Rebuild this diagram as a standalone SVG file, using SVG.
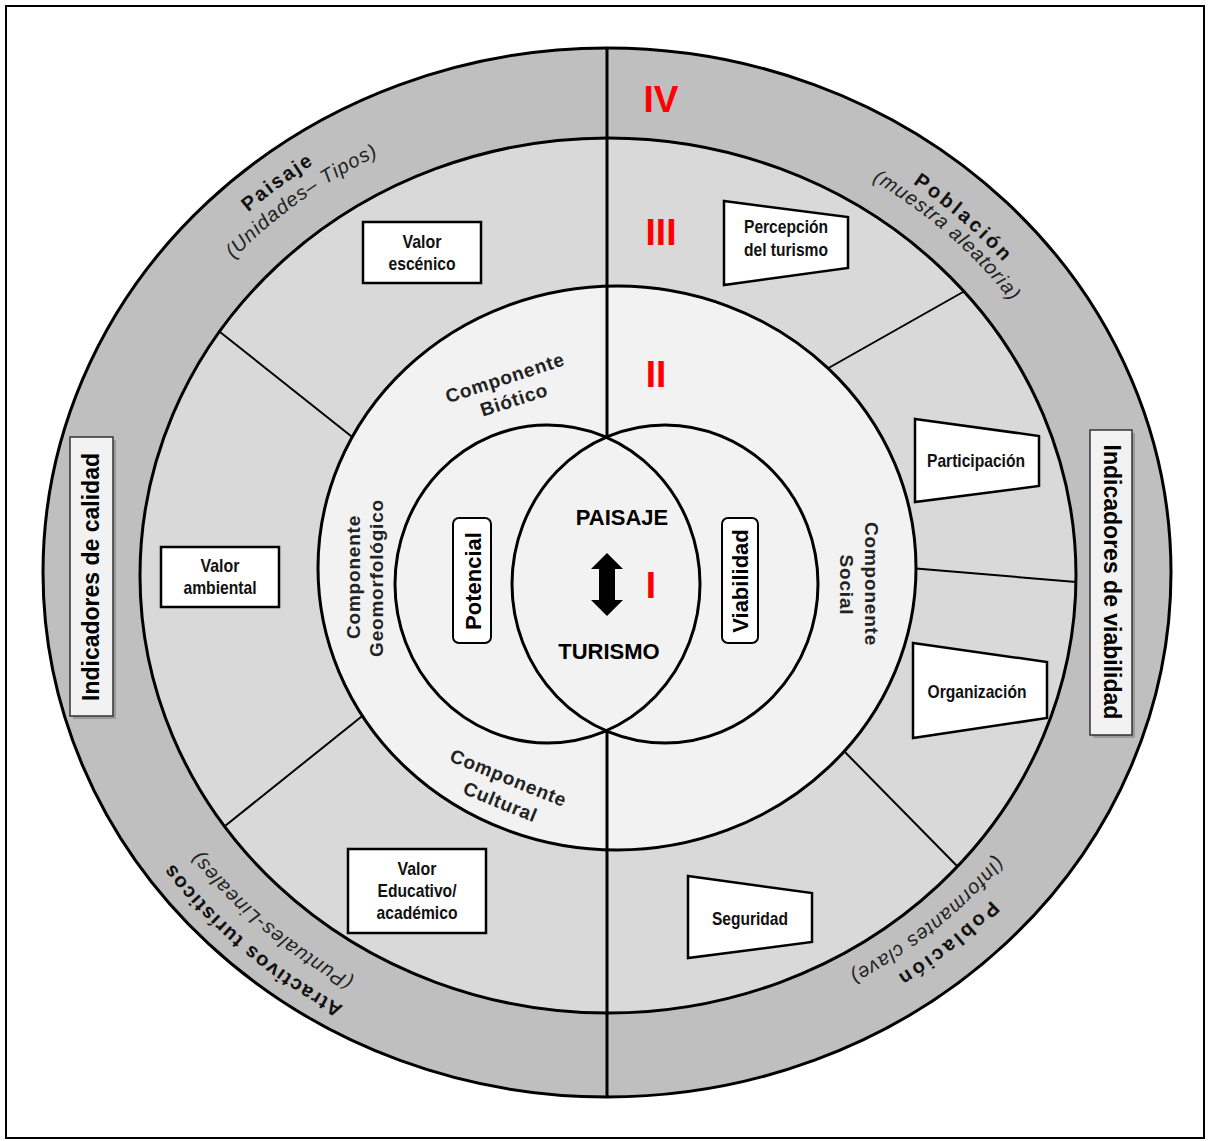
<svg xmlns="http://www.w3.org/2000/svg" width="1208" height="1141" viewBox="0 0 1208 1141">
<style>
.ring{stroke:#000;stroke-width:3}
.sep{stroke:#000;stroke-width:2;fill:none}
.box{fill:#fff;stroke:#000;stroke-width:2.5}
.bt{font-family:"Liberation Sans",Arial,sans-serif;font-weight:bold;font-size:19px;fill:#111;text-anchor:middle}
.comp{font-family:"Liberation Sans",Arial,sans-serif;font-weight:bold;font-size:19px;fill:#222;letter-spacing:0.8px;text-anchor:middle}
.main{font-family:"Liberation Sans",Arial,sans-serif;font-weight:bold;font-size:20px;fill:#111}
.par{font-family:"Liberation Sans",Arial,sans-serif;font-style:italic;font-size:20px;fill:#222;letter-spacing:1px}
.num{font-family:"Liberation Sans",Arial,sans-serif;font-weight:bold;font-size:37px;fill:#ff0000;text-anchor:middle}
.core{font-family:"Liberation Sans",Arial,sans-serif;font-weight:bold;font-size:22px;fill:#000;text-anchor:middle}
.ind{font-family:"Liberation Sans",Arial,sans-serif;font-weight:bold;font-size:23px;fill:#000;text-anchor:middle}
.pill{fill:#fff;stroke:#000;stroke-width:2}
.pt{font-family:"Liberation Sans",Arial,sans-serif;font-weight:bold;font-size:22px;fill:#000;text-anchor:middle}
</style>
<defs>
<path id="pPaisaje" d="M91.3,472.3 A526.8,490 0 0 1 623.5,82.7"/>
<path id="pUnidades" d="M112.7,476.4 A505,470 0 0 1 622.9,102.7"/>
<path id="pPobTop" d="M643.1,92.7 A517,481 0 0 1 1121.2,522.2"/>
<path id="pMuestra" d="M641.9,108.6 A500,465 0 0 1 1104.3,523.9"/>
<path id="pAtract" d="M581.8,1069 A534,497 0 0 1 77.3,635.7"/>
<path id="pPuntual" d="M583.1,1044 A507,472 0 0 1 104.1,632.5"/>
<path id="pPobBot" d="M1121.1,645.3 A520,484 0 0 1 619.3,1056.4"/>
<path id="pInform" d="M1097.3,641.9 A496,461.6 0 0 1 618.7,1034"/>
</defs>
<rect x="6" y="6" width="1198" height="1132" fill="#fff" stroke="#000" stroke-width="2"/>

<g id="ring-IV">
<ellipse class="ring" cx="607" cy="572.5" rx="564" ry="524.5" fill="#bfbfbf"/>
</g>
<g id="ring-III">
<ellipse class="ring" cx="608" cy="575.5" rx="468" ry="437.5" fill="#d9d9d9"/>
</g>
<g id="connectors">
<line class="sep" x1="220" y1="332" x2="356" y2="440"/>
<line class="sep" x1="225" y1="826" x2="366" y2="713"/>
<line class="sep" x1="963" y1="292" x2="825" y2="370"/>
<line class="sep" x1="1076" y1="582" x2="910" y2="568"/>
<line class="sep" x1="958" y1="867" x2="841" y2="748"/>
</g>
<g id="ring-II">
<ellipse class="ring" cx="617" cy="568" rx="299" ry="282" fill="#f2f2f2"/>
</g>
<g id="core-circles">
<ellipse class="ring" cx="547.5" cy="584" rx="152.5" ry="159" fill="none"/>
<ellipse class="ring" cx="665" cy="584" rx="153" ry="159" fill="none"/>
</g>
<g id="axis">
<line x1="607" y1="48" x2="607" y2="438" stroke="#000" stroke-width="3"/>
<line x1="607" y1="730" x2="607" y2="1097" stroke="#000" stroke-width="3"/>
</g>

<g id="ring-labels">
<text class="main" dy="-1" letter-spacing="2"><textPath href="#pPaisaje" startOffset="49%" text-anchor="middle">Paisaje</textPath></text>
<text class="par" dy="2"><textPath href="#pUnidades" startOffset="50%" text-anchor="middle">(Unidades– Tipos)</textPath></text>
<text class="main" dy="-1" letter-spacing="3"><textPath href="#pPobTop" startOffset="50%" text-anchor="middle">Población</textPath></text>
<text class="par" dy="2"><textPath href="#pMuestra" startOffset="50%" text-anchor="middle">(muestra aleatoria)</textPath></text>
<text class="main" dy="-1" letter-spacing="1.5"><textPath href="#pAtract" startOffset="50%" text-anchor="middle">Atractivos turísticos</textPath></text>
<text class="par" dy="2"><textPath href="#pPuntual" startOffset="50%" text-anchor="middle">(Puntuales-Lineales)</textPath></text>
<text class="main" dy="-1" letter-spacing="3"><textPath href="#pPobBot" startOffset="50%" text-anchor="middle">Población</textPath></text>
<text class="par" dy="2"><textPath href="#pInform" startOffset="50%" text-anchor="middle">(Informantes clave)</textPath></text>
</g>

<g id="numerals">
<text class="num" x="661" y="112">IV</text>
<text class="num" x="661" y="245">III</text>
<text class="num" x="656" y="387">II</text>
<text class="num" x="651" y="598">I</text>
</g>

<g id="ind-calidad">
<rect x="73" y="440" width="43" height="279" fill="#8a8a8a" opacity="0.7"/>
<rect x="70" y="437" width="43" height="279" fill="#f2f2f2" stroke="#333" stroke-width="1.5"/>
<text class="ind" transform="translate(99,577) rotate(-90)">Indicadores de calidad</text>
</g>
<g id="ind-viabilidad">
<rect x="1093" y="433" width="42" height="305" fill="#8a8a8a" opacity="0.7"/>
<rect x="1090" y="430" width="42" height="305" fill="#f2f2f2" stroke="#333" stroke-width="1.5"/>
<text class="ind" transform="translate(1104,582) rotate(90)">Indicadores de viabilidad</text>
</g>

<g id="valor-escenico">
<rect class="box" x="363" y="222" width="118" height="61"/>
<text class="bt" x="422" y="248" textLength="39" lengthAdjust="spacingAndGlyphs">Valor</text>
<text class="bt" x="422" y="270" textLength="67" lengthAdjust="spacingAndGlyphs">escénico</text>
</g>
<g id="valor-ambiental">
<rect class="box" x="161" y="547" width="118" height="60"/>
<text class="bt" x="220" y="572" textLength="39" lengthAdjust="spacingAndGlyphs">Valor</text>
<text class="bt" x="220" y="594" textLength="73" lengthAdjust="spacingAndGlyphs">ambiental</text>
</g>
<g id="valor-educativo">
<rect class="box" x="348" y="849" width="138" height="84"/>
<text class="bt" x="417" y="875" textLength="39" lengthAdjust="spacingAndGlyphs">Valor</text>
<text class="bt" x="417" y="897" textLength="79" lengthAdjust="spacingAndGlyphs">Educativo/</text>
<text class="bt" x="417" y="919" textLength="81" lengthAdjust="spacingAndGlyphs">académico</text>
</g>
<g id="percepcion">
<polygon class="box" points="724,201 848,217 848,268 724,285"/>
<text class="bt" x="786" y="233" textLength="84" lengthAdjust="spacingAndGlyphs">Percepción</text>
<text class="bt" x="786" y="256" textLength="84" lengthAdjust="spacingAndGlyphs">del turismo</text>
</g>
<g id="participacion">
<polygon class="box" points="915,419 1039,436 1039,486 915,502"/>
<text class="bt" x="976" y="467" textLength="98" lengthAdjust="spacingAndGlyphs">Participación</text>
</g>
<g id="organizacion">
<polygon class="box" points="913,643 1047,662 1047,718 913,738"/>
<text class="bt" x="977" y="698" textLength="99" lengthAdjust="spacingAndGlyphs">Organización</text>
</g>
<g id="seguridad">
<polygon class="box" points="688,876 812,893 812,942 688,958"/>
<text class="bt" x="750" y="925" textLength="76" lengthAdjust="spacingAndGlyphs">Seguridad</text>
</g>

<g id="componentes">
<text class="comp" transform="translate(507,384) rotate(-18)">Componente</text>
<text class="comp" transform="translate(516,406) rotate(-18)">Biótico</text>
<text class="comp" transform="translate(360,577) rotate(-90)">Componente</text>
<text class="comp" transform="translate(383,578) rotate(-90)">Geomorfológico</text>
<text class="comp" transform="translate(865,584) rotate(90)">Componente</text>
<text class="comp" transform="translate(840,585) rotate(90)">Social</text>
<text class="comp" transform="translate(506,784) rotate(22)">Componente</text>
<text class="comp" transform="translate(498,808) rotate(22)">Cultural</text>
</g>

<g id="potencial">
<rect class="pill" x="453" y="518" width="38" height="125" rx="6"/>
<text class="pt" transform="translate(481,581) rotate(-90)">Potencial</text>
</g>
<g id="viabilidad">
<rect class="pill" x="722" y="518" width="36" height="125" rx="6"/>
<text class="pt" transform="translate(748,581) rotate(-90)">Viabilidad</text>
</g>

<g id="paisaje-turismo">
<text class="core" x="622" y="525">PAISAJE</text>
<polygon points="607,553 623,569 615,569 615,600 623,600 607,616 591,600 599,600 599,569 591,569" fill="#000"/>
<text class="core" x="609" y="659">TURISMO</text>
</g>
</svg>
